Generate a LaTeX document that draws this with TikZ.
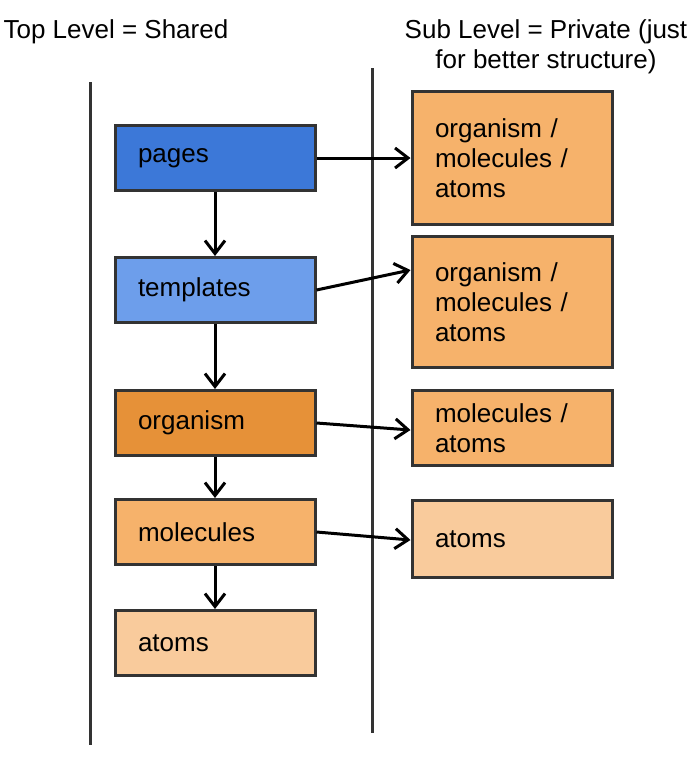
\documentclass[tikz,border=0pt]{standalone}
\usepackage{fontspec}
\setmainfont{Liberation Sans}
\usepackage{tikz}
\usetikzlibrary{arrows.meta}
\usetikzlibrary{positioning}

\definecolor{pagesblue}{HTML}{3C78D8}
\definecolor{templblue}{HTML}{6D9EEB}
\definecolor{orgorange}{HTML}{E69138}
\definecolor{midorange}{HTML}{F6B26B}
\definecolor{lightorange}{HTML}{F9CB9C}
\definecolor{edgegray}{HTML}{333333}

\begin{document}
\begin{tikzpicture}[x=1pt, y=-1pt,
    every node/.style={font=\fontsize{26}{30}\selectfont},
    level/.style={draw=edgegray, line width=3pt, inner xsep=23pt, text width=154pt,
      align=left, minimum height=#1},
    level/.default=65pt,
    link/.style={->, >={Straight Barb[length=13pt, width=20pt]}, line width=3pt}]
    \useasboundingbox (0,0) rectangle (698,758);

    % headings
    \node[anchor=west] (toptitle) at (0,32) {Top Level = Shared};
    \node[align=center] (subtitle) at (546,47) {Sub Level = Private (just\\for better structure)};

    % separators
    \draw[line width=3pt, edgegray] (90,82) -- (90,745);
    \draw[line width=3pt, edgegray] (372,68) -- (372,733);

    % shared levels
    \node[level, fill=pagesblue] (pages) at (215,158) {pages};
    \node[level, fill=templblue] (templates) at (215,290) {templates};
    \node[level, fill=orgorange] (organism) at (215,423) {organism};
    \node[level, fill=midorange] (molecules) at (215,532) {molecules};
    \node[level, fill=lightorange] (atoms) at (215,643) {atoms};

    % private levels
    \node[level=133pt, fill=midorange] (subpages) at (512,158) {organism /\\molecules /\\atoms};
    \node[level=131pt, fill=midorange] (subtempl) at (512,302) {organism /\\molecules /\\atoms};
    \node[level=75pt, fill=midorange] (suborg) at (512,428) {molecules /\\atoms};
    \node[level=77pt, fill=lightorange] (submol) at (512,539) {atoms};

    \draw[link] (pages) -- (templates);
    \draw[link] (templates) -- (organism);
    \draw[link] (organism) -- (molecules);
    \draw[link] (molecules) -- (atoms);

    \draw[link] (pages.east) -- (subpages.west);
    \draw[link] (templates.east) -- ([yshift=32pt]subtempl.west);
    \draw[link] (organism.east) -- ([yshift=-2pt]suborg.west);
    \draw[link] (molecules.east) -- ([yshift=-1pt]submol.west);
  \end{tikzpicture}
\end{document}
